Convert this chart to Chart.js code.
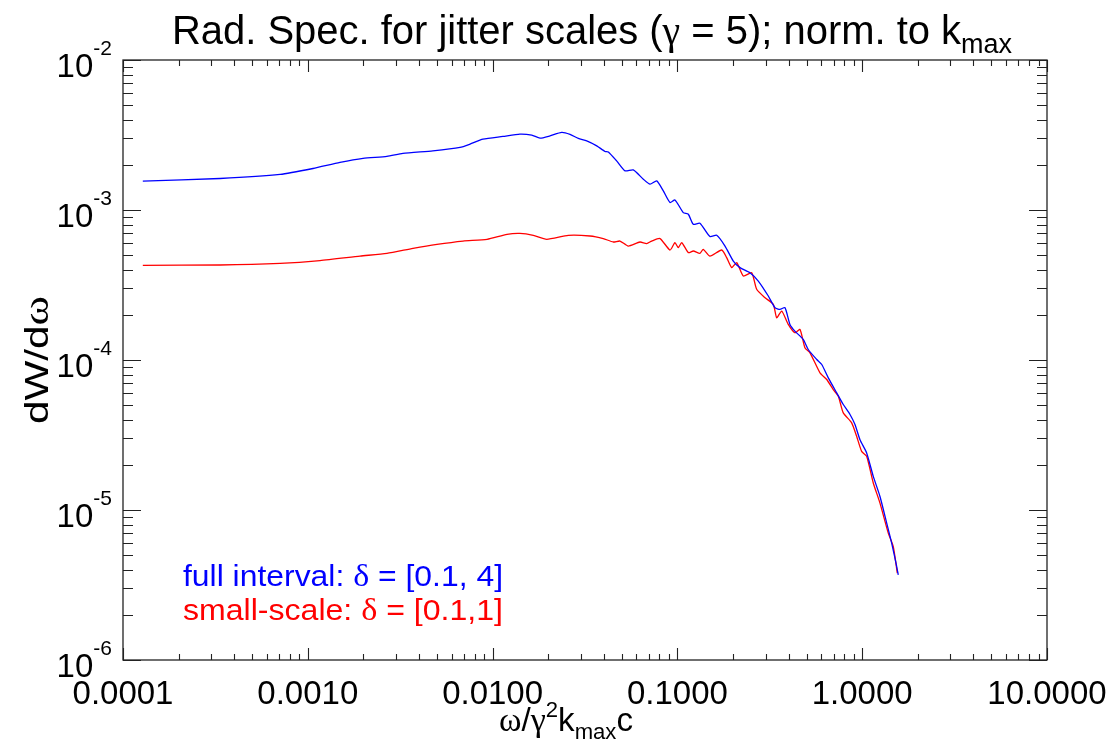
<!DOCTYPE html>
<html>
<head>
<meta charset="utf-8">
<script src="https://cdn.jsdelivr.net/npm/chart.js@4.4.0/dist/chart.umd.min.js"></script>
<style>
  html, body { margin: 0; padding: 0; background: #fff; }
  #wrap { width: 1112px; height: 746px; }
</style>
</head>
<body>
<div id="wrap"><canvas id="specChart" width="1112" height="746"></canvas></div>
<script>
// values
const blueX = [1.28e-4, 3.35e-4, 7.08e-4, 1.067e-3, 1.493e-3, 1.99e-3, 2.68e-3, 3.27e-3, 4.75e-3, 6.66e-3,
  7.55e-3, 8.87e-3, 1.137e-2, 1.406e-2, 1.629e-2, 1.805e-2, 2.045e-2, 2.366e-2, 2.624e-2, 2.91e-2,
  3.23e-2, 3.66e-2, 4.06e-2, 4.23e-2, 4.69e-2, 5.21e-2, 5.77e-2, 6.54e-2, 7.11e-2, 7.73e-2,
  8.39e-2, 9.12e-2, 9.70e-2, 0.1076, 0.1146, 0.1219, 0.1324, 0.150, 0.1632, 0.181,
  0.2007, 0.2182, 0.247, 0.274, 0.3104, 0.3373, 0.3589, 0.382, 0.4064, 0.4325,
  0.4797, 0.5105, 0.5675, 0.604, 0.6556, 0.7278, 0.790, 0.859, 0.914, 0.9727,
  1.057, 1.148, 1.248, 1.357, 1.444, 1.524, 1.567];
const blueY = [1.556e-3, 1.622e-3, 1.726e-3, 1.891e-3, 2.074e-3, 2.206e-3, 2.275e-3, 2.382e-3, 2.479e-3, 2.612e-3,
  2.748e-3, 2.968e-3, 3.093e-3, 3.206e-3, 3.155e-3, 3.014e-3, 3.122e-3, 3.29e-3, 3.19e-3, 3.0e-3,
  2.891e-3, 2.678e-3, 2.456e-3, 2.44e-3, 2.126e-3, 1.823e-3, 1.851e-3, 1.605e-3, 1.486e-3, 1.563e-3,
  1.340e-3, 1.121e-3, 1.167e-3, 9.61e-4, 9.37e-4, 8.03e-4, 8.16e-4, 6.65e-4, 6.78e-4, 5.75e-4,
  4.57e-4, 4.13e-4, 3.82e-4, 3.36e-4, 2.67e-4, 2.232e-4, 2.174e-4, 2.232e-4, 1.726e-4, 1.557e-4,
  1.371e-4, 1.175e-4, 1.008e-4, 9.33e-5, 7.60e-5, 6.04e-5, 5.05e-5, 4.33e-5, 3.71e-5, 2.94e-5,
  2.40e-5, 1.676e-5, 1.231e-5, 8.18e-6, 6.01e-6, 4.43e-6, 3.70e-6];

const redX = [1.28e-4, 3.35e-4, 7.08e-4, 1.164e-3, 1.917e-3, 2.68e-3, 3.71e-3, 5.0e-3, 6.92e-3, 9.33e-3,
  1.197e-2, 1.406e-2, 1.661e-2, 1.963e-2, 2.568e-2, 3.365e-2, 3.97e-2, 4.50e-2, 4.89e-2, 5.42e-2,
  6.27e-2, 6.82e-2, 7.26e-2, 8.05e-2, 9.12e-2, 9.70e-2, 0.1011, 0.1055, 0.1146, 0.1219,
  0.1324, 0.138, 0.150, 0.1737, 0.1848, 0.1967, 0.2094, 0.2273, 0.2523, 0.2685,
  0.298, 0.3304, 0.3446, 0.3667, 0.398, 0.4325, 0.4606, 0.4897, 0.5218, 0.5909,
  0.6427, 0.6975, 0.7425, 0.790, 0.877, 0.933, 0.993, 1.057, 1.148, 1.248,
  1.384, 1.472, 1.549];
const redY = [4.28e-4, 4.30e-4, 4.41e-4, 4.60e-4, 4.93e-4, 5.14e-4, 5.55e-4, 5.90e-4, 6.21e-4, 6.38e-4,
  6.89e-4, 6.99e-4, 6.78e-4, 6.38e-4, 6.78e-4, 6.71e-4, 6.45e-4, 6.12e-4, 6.21e-4, 5.75e-4,
  6.12e-4, 5.97e-4, 6.21e-4, 6.45e-4, 5.41e-4, 6.06e-4, 5.61e-4, 6.06e-4, 5.20e-4, 5.33e-4,
  5.14e-4, 5.47e-4, 4.93e-4, 5.41e-4, 4.81e-4, 4.13e-4, 4.46e-4, 3.63e-4, 3.82e-4, 2.96e-4,
  2.60e-4, 2.35e-4, 1.913e-4, 2.12e-4, 1.726e-4, 1.519e-4, 1.598e-4, 1.207e-4, 1.117e-4, 8.21e-5,
  7.41e-5, 6.35e-5, 5.73e-5, 4.44e-5, 3.81e-5, 3.10e-5, 2.46e-5, 2.28e-5, 1.514e-5, 1.112e-5,
  7.02e-6, 5.71e-6, 3.79e-6];

const xDecades = [1e-4, 1e-3, 1e-2, 1e-1, 1, 10];
const xTickLabels = ['0.0001', '0.0010', '0.0100', '0.1000', '1.0000', '10.0000'];
const yDecades = [1e-6, 1e-5, 1e-4, 1e-3, 1e-2];
const yTickExps = ['-6', '-5', '-4', '-3', '-2'];

const SANS = '"Liberation Sans", Arial, sans-serif';
const SERIF = '"Liberation Serif", "Times New Roman", serif';

// major + minor ticks (1..9 x decade) for a log axis
function logTicks(decades) {
  const out = [];
  decades.forEach((d, i) => {
    out.push(d);
    if (i < decades.length - 1) {
      for (let m = 2; m <= 9; m++) out.push(m * d);
    }
  });
  return out;
}
function isDecade(v) {
  const l = Math.log10(v);
  return Math.abs(l - Math.round(l)) < 1e-6;
}

// draw a run of text pieces (font / vertical shift) as one line
function drawRich(ctx, parts, x, y, align, fitWidth) {
  let w = 0;
  parts.forEach(p => { ctx.font = p.font; p.w = ctx.measureText(p.t).width; w += p.w; });
  const sx = fitWidth ? fitWidth / w : 1;
  ctx.save();
  ctx.translate(x, y);
  ctx.scale(sx, 1);
  let cx = align === 'center' ? -w / 2 : (align === 'right' ? -w : 0);
  ctx.textAlign = 'left';
  ctx.textBaseline = 'alphabetic';
  parts.forEach(p => {
    ctx.font = p.font;
    ctx.fillStyle = p.color || '#000';
    ctx.fillText(p.t, cx, p.dy || 0);
    cx += p.w;
  });
  ctx.restore();
}

const idlFrame = {
  id: 'idlFrame',
  afterDraw(chart) {
    const ctx = chart.ctx;
    const a = chart.chartArea;
    const xs = chart.scales.x, ys = chart.scales.y;
    ctx.save();
    ctx.strokeStyle = '#222';
    ctx.lineWidth = 1.3;
    ctx.strokeRect(a.left, a.top, a.right - a.left, a.bottom - a.top);
    ctx.lineWidth = 1.1;
    ctx.beginPath();
    xs.ticks.forEach(t => {
      const px = Math.round(xs.getPixelForValue(t.value)) + 0.5;
      const len = isDecade(t.value) ? 12 : 6;
      ctx.moveTo(px, a.bottom); ctx.lineTo(px, a.bottom - len);
      ctx.moveTo(px, a.top); ctx.lineTo(px, a.top + len);
    });
    ys.ticks.forEach(t => {
      const py = Math.round(ys.getPixelForValue(t.value)) + 0.5;
      const len = isDecade(t.value) ? 18 : 10;
      ctx.moveTo(a.left, py); ctx.lineTo(a.left + len, py);
      ctx.moveTo(a.right, py); ctx.lineTo(a.right - len, py);
    });
    ctx.stroke();

    // y tick labels 10^n
    yDecades.forEach((d, i) => {
      const py = ys.getPixelForValue(d);
      drawRich(ctx, [
        { t: '10', font: '33px ' + SANS },
        { t: yTickExps[i], font: '21px ' + SANS, dy: -22 }
      ], 112, py + 17, 'right');
    });

    // title
    drawRich(ctx, [
      { t: 'Rad. Spec. for jitter scales (', font: '40px ' + SANS },
      { t: 'γ', font: '40px ' + SERIF },
      { t: ' = 5); norm. to k', font: '40px ' + SANS },
      { t: 'max', font: '27px ' + SANS, dy: 9 }
    ], 592, 44, 'center', 840);

    // x axis title
    drawRich(ctx, [
      { t: 'ω', font: '34px ' + SERIF },
      { t: '/', font: '33px ' + SANS },
      { t: 'γ', font: '34px ' + SERIF },
      { t: '2', font: '22px ' + SANS, dy: -14 },
      { t: 'k', font: '33px ' + SANS },
      { t: 'max', font: '22px ' + SANS, dy: 8 },
      { t: 'c', font: '33px ' + SANS }
    ], 566, 731, 'center', 134);

    // y axis title
    ctx.save();
    ctx.translate(48, 360);
    ctx.rotate(-Math.PI / 2);
    drawRich(ctx, [
      { t: 'dW/d', font: '34px ' + SANS },
      { t: 'ω', font: '36px ' + SERIF }
    ], 0, 0, 'center', 128);
    ctx.restore();

    // legend text
    drawRich(ctx, [
      { t: 'full interval: ', font: '30px ' + SANS, color: '#0000ff' },
      { t: 'δ', font: '32px ' + SERIF, color: '#0000ff' },
      { t: ' = [0.1, 4]', font: '30px ' + SANS, color: '#0000ff' }
    ], 183, 586, 'left', 320);
    drawRich(ctx, [
      { t: 'small-scale: ', font: '30px ' + SANS, color: '#ff0000' },
      { t: 'δ', font: '32px ' + SERIF, color: '#ff0000' },
      { t: ' = [0.1,1]', font: '30px ' + SANS, color: '#ff0000' }
    ], 183, 620, 'left', 320);
    ctx.restore();
  }
};

const xTicks = logTicks(xDecades);
const yTicks = logTicks(yDecades);

new Chart(document.getElementById('specChart').getContext('2d'), {
  type: 'line',
  data: {
    datasets: [
      {
        label: 'full interval',
        data: blueX.map((x, i) => ({ x: x, y: blueY[i] })),
        borderColor: '#0000ff',
        borderWidth: 1.3,
        pointRadius: 0,
        fill: false,
        tension: 0.2,
        order: 0
      },
      {
        label: 'small-scale',
        data: redX.map((x, i) => ({ x: x, y: redY[i] })),
        borderColor: '#ff0000',
        borderWidth: 1.3,
        pointRadius: 0,
        fill: false,
        tension: 0.2,
        order: 1
      }
    ]
  },
  options: {
    responsive: false,
    animation: false,
    events: [],
    layout: { padding: { top: 60, right: 65, left: 0, bottom: 0 } },
    plugins: { legend: { display: false }, title: { display: false }, tooltip: { enabled: false } },
    scales: {
      x: {
        type: 'logarithmic',
        min: 1e-4,
        max: 10,
        grid: { display: false, drawTicks: false },
        border: { display: false },
        afterBuildTicks: s => { s.ticks = xTicks.map(v => ({ value: v })); },
        afterFit: s => { s.height = 86; s.paddingLeft = 0; s.paddingRight = 0; },
        ticks: {
          autoSkip: false,
          maxRotation: 0,
          padding: 15,
          color: '#000',
          font: { family: SANS, size: 33 },
          callback: v => {
            const i = xDecades.findIndex(d => Math.abs(d - v) / d < 1e-6);
            return i >= 0 ? xTickLabels[i] : '';
          }
        }
      },
      y: {
        type: 'logarithmic',
        min: 1e-6,
        max: 1e-2,
        grid: { display: false, drawTicks: false },
        border: { display: false },
        afterBuildTicks: s => { s.ticks = yTicks.map(v => ({ value: v })); },
        afterFit: s => { s.width = 123; s.paddingTop = 0; s.paddingBottom = 0; },
        ticks: { display: false }
      }
    }
  },
  plugins: [idlFrame]
});
</script>
</body>
</html>
